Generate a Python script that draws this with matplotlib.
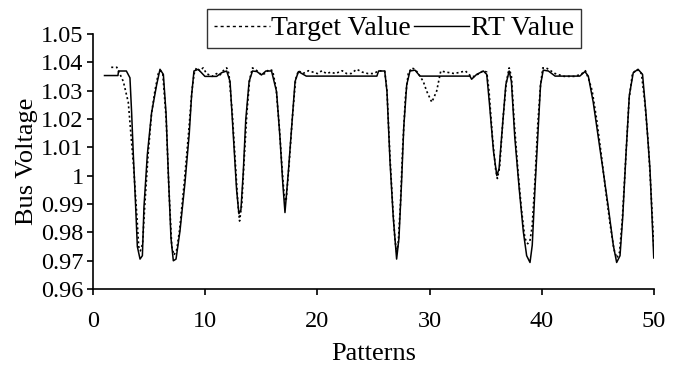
import matplotlib
matplotlib.use("Agg")
import matplotlib.pyplot as plt
from matplotlib.lines import Line2D

# RT value (solid line)
rt_x = [1.0, 2.2, 2.25, 2.95, 3.27, 3.42, 3.57, 3.78, 3.93, 4.17, 4.38, 4.52, 4.82, 5.2,
        5.65, 5.95, 6.25, 6.49, 6.7, 6.93, 7.14, 7.38, 7.73, 8.18, 8.56, 8.77, 8.98,
        9.36, 9.96, 11.0, 11.45, 11.9, 12.2, 12.5, 12.78, 12.99, 13.17, 13.38, 13.6,
        13.9, 14.2, 14.6, 15.0, 15.4, 15.9, 16.35, 16.65, 16.9, 17.1, 17.4, 17.7,
        18.0, 18.3, 19.0, 25.3, 25.45, 26.0, 26.2, 26.47, 26.76, 27.06, 27.27, 27.5,
        27.7, 27.96, 28.25, 28.7, 29.14, 33.6, 33.75, 34.2, 34.8, 35.1, 35.33, 35.7,
        36.0, 36.2, 36.5, 36.8, 37.1, 37.3, 37.6, 38.0, 38.36, 38.66, 38.96, 39.16,
        39.4, 39.7, 39.9, 40.14, 40.6, 41.2, 43.4, 43.86, 44.16, 44.6, 45.05, 45.5,
        45.94, 46.39, 46.69, 46.99, 47.23, 47.52, 47.82, 48.17, 48.6, 49.0, 49.3,
        49.66, 49.85, 50.0]
rt_y = [1.0353, 1.0353, 1.0369, 1.0369, 1.0345, 1.0222, 1.0074, 0.989, 0.975, 0.9706,
        0.9718, 0.989, 1.0074, 1.0222, 1.032, 1.0375, 1.0357, 1.022, 1.000, 0.978,
        0.970, 0.9706, 0.9804, 0.9976, 1.0148, 1.0283, 1.0369, 1.0375, 1.035, 1.035,
        1.0363, 1.0369, 1.0332, 1.0136, 0.9952, 0.9866, 0.988, 1.0013, 1.0197, 1.0332,
        1.0369, 1.0367, 1.0355, 1.0369, 1.0369, 1.0296, 1.0136, 0.9976, 0.987, 1.0013,
        1.0173, 1.0332, 1.0367, 1.0351, 1.0351, 1.0369, 1.0369, 1.0296, 1.005, 0.9853,
        0.9706, 0.978, 0.9976, 1.0173, 1.032, 1.0369, 1.0372, 1.0351, 1.0351, 1.034,
        1.0357, 1.0369, 1.0357, 1.0259, 1.0087, 1.0, 1.0025, 1.0173, 1.032, 1.0369,
        1.0332, 1.0136, 0.9952, 0.9804, 0.9718, 0.9694, 0.9755, 0.9952, 1.0173, 1.032,
        1.0372, 1.0369, 1.0351, 1.0351, 1.0367, 1.0351, 1.0259, 1.0136, 1.0013, 0.989,
        0.9755, 0.9694, 0.9718, 0.9853, 1.0074, 1.0283, 1.0363, 1.0375, 1.0357, 1.0222,
        1.0025, 0.985, 0.971]

# Target value (dotted line)
tg_x = [1.6, 2.1, 2.68, 3.12, 3.35, 3.6, 3.9, 4.05, 4.2, 4.4, 4.6, 4.9, 5.2, 5.5, 5.8,
        6.0, 6.2, 6.5, 6.75, 7.0, 7.2, 7.45, 7.7, 8.1, 8.5, 8.8, 9.0, 9.2, 9.5, 9.8,
        10.1, 10.6, 11.0, 11.3, 11.6, 11.9, 12.1, 12.4, 12.7, 12.9, 13.05, 13.25,
        13.45, 13.7, 13.95, 14.2, 14.6, 15.0, 15.3, 15.7, 16.0, 16.3, 16.6, 16.85,
        17.05, 17.2, 17.45, 17.75, 18.05, 18.3, 18.7, 19.2, 19.6, 20.0, 20.4, 20.8,
        21.2, 21.6, 22.2, 22.6, 23.0, 23.5, 24.0, 24.5, 25.0, 25.5, 26.0, 26.2, 26.45,
        26.7, 26.9, 27.05, 27.2, 27.4, 27.6, 27.85, 28.1, 28.4, 28.7, 29.0, 29.44,
        29.74, 30.2, 30.63, 31.0, 31.5, 32.2, 33.2, 33.7, 34.0, 34.4, 34.8, 35.1, 35.3,
        35.6, 35.9, 36.05, 36.25, 36.55, 36.85, 37.1, 37.3, 37.55, 37.9, 38.2, 38.5,
        38.75, 38.95, 39.15, 39.4, 39.65, 39.9, 40.1, 40.4, 40.8, 41.2, 42.0, 43.0,
        43.6, 43.9, 44.2, 44.5, 44.9, 45.3, 45.7, 46.1, 46.45, 46.7, 46.95, 47.2, 47.5,
        47.8, 48.1, 48.5, 48.9, 49.2, 49.5, 49.75, 50.0]
tg_y = [1.0382, 1.0382, 1.0332, 1.0259, 1.0148, 1.003, 0.985, 0.975, 0.9735, 0.976,
        0.99, 1.008, 1.022, 1.03, 1.036, 1.037, 1.036, 1.02, 0.995, 0.975, 0.972,
        0.974, 0.981, 0.997, 1.015, 1.03, 1.036, 1.038, 1.037, 1.038, 1.036, 1.035,
        1.036, 1.0355, 1.037, 1.038, 1.036, 1.022, 1.003, 0.99, 0.984, 0.99, 1.005,
        1.022, 1.034, 1.038, 1.037, 1.0355, 1.036, 1.0375, 1.037, 1.031, 1.017, 1.002,
        0.992, 0.991, 1.003, 1.02, 1.034, 1.037, 1.036, 1.037, 1.0365, 1.036, 1.037,
        1.036, 1.0365, 1.036, 1.037, 1.036, 1.036, 1.0375, 1.0365, 1.036, 1.036, 1.037,
        1.0368, 1.03, 1.008, 0.99, 0.978, 0.973, 0.976, 0.99, 1.01, 1.028, 1.036, 1.038,
        1.0375, 1.036, 1.0332, 1.0298, 1.0259, 1.0298, 1.0369, 1.0365, 1.036, 1.0369,
        1.035, 1.035, 1.036, 1.037, 1.0365, 1.03, 1.014, 1.002, 0.999, 1.003, 1.02,
        1.033, 1.038, 1.035, 1.019, 1.001, 0.988, 0.978, 0.976, 0.977, 0.982, 0.998,
        1.018, 1.032, 1.038, 1.038, 1.037, 1.036, 1.035, 1.035, 1.036, 1.037, 1.034,
        1.03, 1.02, 1.008, 0.995, 0.983, 0.974, 0.971, 0.973, 0.985, 1.006, 1.027,
        1.036, 1.0375, 1.036, 1.026, 1.012, 0.995, 0.975]

x_ticks = [0, 10, 20, 30, 40, 50]
y_ticks = [0.96, 0.97, 0.98, 0.99, 1.00, 1.01, 1.02, 1.03, 1.04, 1.05]
y_labels = ["0.96", "0.97", "0.98", "0.99", "1", "1.01", "1.02", "1.03", "1.04", "1.05"]

plt.rcParams['font.family'] = ['Liberation Serif', 'DejaVu Serif']
tick_fs = 17.5
lab_fs = 19
leg_fs = 20

fig = plt.figure(figsize=(6.86, 3.76), dpi=100)
ax = fig.add_axes([0.136, 0.231, 0.817, 0.679])

ax.plot(tg_x, tg_y, color='black', linestyle=(0, (1.2, 1.6)), linewidth=1.2)
ax.plot(rt_x, rt_y, color='black', linestyle='-', linewidth=1.1)

ax.set_xlim(0, 50)
ax.set_ylim(0.96, 1.05)
ax.set_xticks(x_ticks)
ax.set_yticks(y_ticks)
ax.set_yticklabels(y_labels)
ax.spines['top'].set_visible(False)
ax.spines['right'].set_visible(False)
for s in ['left', 'bottom']:
    ax.spines[s].set_linewidth(1.2)
ax.tick_params(axis='both', direction='out', length=4, width=1.2, labelsize=tick_fs)
ax.tick_params(axis='x', pad=12)
ax.tick_params(axis='y', pad=3)

ax.set_xlabel('Patterns', fontsize=lab_fs, labelpad=8)
ax.set_ylabel('Bus Voltage', fontsize=lab_fs, labelpad=2)

h1 = Line2D([], [], color='black', linestyle=(0, (2.2, 2.2)), linewidth=1.0)
h2 = Line2D([], [], color='black', linestyle='-', linewidth=1.0)
leg = fig.legend([h1, h2], ['Target Value', 'RT Value'], loc='upper left',
                 bbox_to_anchor=(0.302, 0.976), ncol=2, fontsize=leg_fs,
                 handlelength=2.0, handletextpad=0.05, columnspacing=0.1,
                 borderpad=0.25, borderaxespad=0, frameon=True, fancybox=False)
leg.get_frame().set_edgecolor('black')
leg.get_frame().set_linewidth(1.0)

fig.savefig('out.png', dpi=100)
